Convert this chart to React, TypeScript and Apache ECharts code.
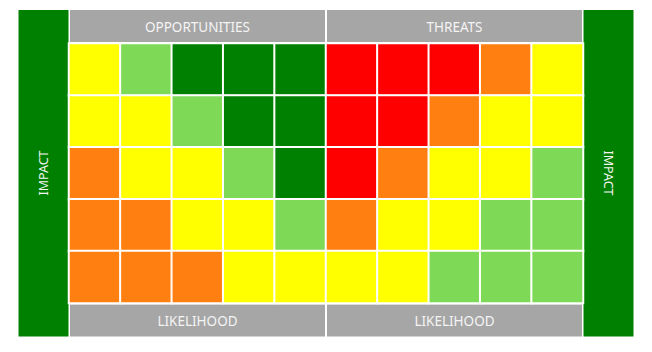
import React, { useEffect, useRef } from "react";
import * as echarts from "echarts";

// Likelihood columns: 5 for opportunities, 5 for threats
const columns = ["Opp L1", "Opp L2", "Opp L3", "Opp L4", "Opp L5", "Thr L1", "Thr L2", "Thr L3", "Thr L4", "Thr L5"];
// Impact rows, top to bottom
const rows = ["Impact 5", "Impact 4", "Impact 3", "Impact 2", "Impact 1"];
// Level per cell: 1 dark green, 2 light green, 3 yellow, 4 orange, 5 red
const row1 = [3, 2, 1, 1, 1, 5, 5, 5, 4, 3];
const row2 = [3, 3, 2, 1, 1, 5, 5, 4, 3, 3];
const row3 = [4, 3, 3, 2, 1, 5, 4, 3, 3, 2];
const row4 = [4, 4, 3, 3, 2, 4, 3, 3, 2, 2];
const row5 = [4, 4, 4, 3, 3, 3, 3, 2, 2, 2];
const levels = [row1, row2, row3, row4, row5];

const topLabels = ["OPPORTUNITIES", "THREATS"];
const bottomLabels = ["LIKELIHOOD", "LIKELIHOOD"];
const sideLabel = "IMPACT";

const levelColors: Record<number, string> = {
  1: "#008000",
  2: "#7ED957",
  3: "#FFFF00",
  4: "#FF7F11",
  5: "#FF0000",
};

export default function App() {
  const ref = useRef<HTMLDivElement>(null);
  useEffect(() => {
    document.body.style.margin = "0";
    if (!ref.current) return;
    const chart = echarts.init(ref.current, undefined, { renderer: "svg" });

    const data: number[][] = [];
    levels.forEach((r, ri) => r.forEach((v, ci) => data.push([ci, ri, v])));

    const gridLeft = 69;
    const gridTop = 43.5;
    const gridW = 514;
    const gridH = 259.5;
    const half = gridW / 2;
    const font = "13.5px 'Noto Sans', sans-serif";
    const sideFont = "12.5px 'Noto Sans', sans-serif";
    const gray = "#A6A6A6";
    const green = "#008000";
    const textColor = "#F4F4F4";

    const graphic: any[] = [];
    topLabels.forEach((t, i) => {
      const x0 = gridLeft + i * half + 1;
      graphic.push({
        type: "rect",
        shape: { x: x0, y: 10, width: half - 2, height: 32 },
        style: { fill: gray },
      });
      graphic.push({
        type: "text",
        x: x0 + (half - 2) / 2,
        y: 27,
        style: { text: t, fill: textColor, font, textAlign: "center", textVerticalAlign: "middle" },
      });
    });
    bottomLabels.forEach((t, i) => {
      const x0 = gridLeft + i * half + 1;
      graphic.push({
        type: "rect",
        shape: { x: x0, y: 304.5, width: half - 2, height: 32 },
        style: { fill: gray },
      });
      graphic.push({
        type: "text",
        x: x0 + (half - 2) / 2,
        y: 321,
        style: { text: t, fill: textColor, font, textAlign: "center", textVerticalAlign: "middle" },
      });
    });
    [
      { x: 18.5, rot: Math.PI / 2 },
      { x: 583.5, rot: -Math.PI / 2 },
    ].forEach((s) => {
      graphic.push({
        type: "rect",
        shape: { x: s.x, y: 10, width: 50, height: 326.5 },
        style: { fill: green },
      });
      graphic.push({
        type: "text",
        x: s.x + 25,
        y: 173,
        rotation: s.rot,
        style: { text: sideLabel, fill: textColor, font: sideFont, textAlign: "center", textVerticalAlign: "middle" },
      });
    });

    chart.setOption({
      animation: false,
      grid: { left: gridLeft, top: gridTop, width: gridW, height: gridH },
      xAxis: { type: "category", data: columns, show: false },
      yAxis: { type: "category", data: rows, inverse: true, show: false },
      visualMap: {
        type: "piecewise",
        show: false,
        dimension: 2,
        pieces: [1, 2, 3, 4, 5].map((v) => ({ value: v, color: levelColors[v] })),
      },
      series: [
        {
          type: "heatmap",
          data,
          itemStyle: { borderColor: "#ffffff", borderWidth: 2 },
          emphasis: { disabled: true },
          label: { show: false },
        },
      ],
      graphic,
    });
    return () => chart.dispose();
  }, []);
  return <div ref={ref} style={{ width: 652, height: 352 }} />;
}
